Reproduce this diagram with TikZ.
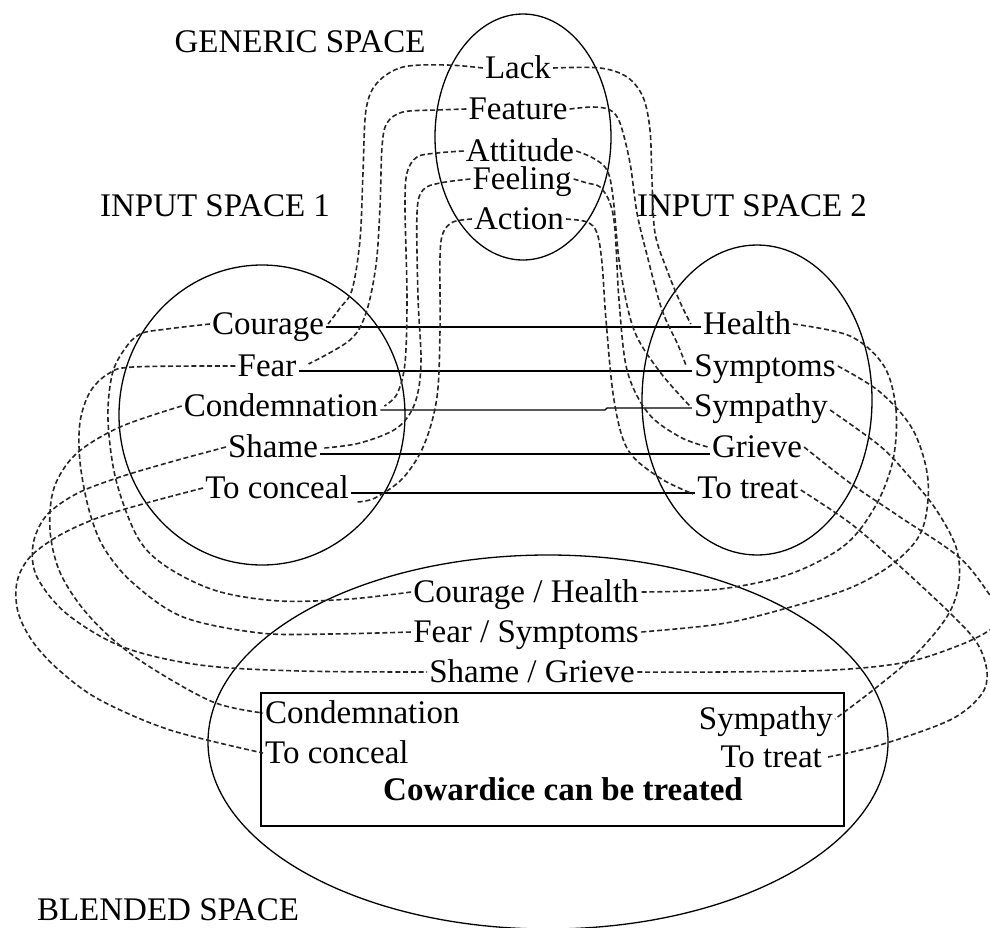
\documentclass[tikz,border=0pt]{standalone}
\usepackage{fontspec}
\setmainfont{Liberation Serif}
\begin{document}
\begin{tikzpicture}[x=1pt,y=-1pt,
  every node/.style={font=\fontsize{33}{38}\selectfont, inner xsep=2pt, inner ysep=0pt,
    text height=24pt, text depth=3pt},
  space/.style={draw=black, line width=1.3pt},
  map/.style={draw=black, line width=1.3pt},
  link/.style={draw=black!85, line width=1.6pt, dash pattern=on 5pt off 2.8pt},
  curve/.style={smooth, tension=0.55}]
\useasboundingbox (0,0) rectangle (990,927);
\clip (0,0) rectangle (990,927);

% the four mental spaces
\draw[space] (523,137) ellipse [x radius=88pt, y radius=123pt];
\draw[space] (262,415) ellipse [x radius=143pt, y radius=150pt];
\draw[space] (757,400) ellipse [x radius=115pt, y radius=155pt];
\draw[space] (548,742) ellipse [x radius=340pt, y radius=187pt];
\draw[space] (261,693) rectangle (844,826);

% space titles
\node (tgen) at (300,42) {GENERIC SPACE};
\node (tin1) at (215,206) {INPUT SPACE 1};
\node (tin2) at (752,206) {INPUT SPACE 2};
\node (tbl)  at (168,910) {BLENDED SPACE};

% generic space
\node (lack)    at (518,68)  {Lack};
\node (feature) at (518,109) {Feature};
\node (attitude)at (520,151) {Attitude};
\node (feeling) at (522,179) {Feeling};
\node (action)  at (519,219) {Action};

% input space 1
\node (courage) at (268,324) {Courage};
\node (fear)    at (267,366) {Fear};
\node (condem)  at (281,406) {Condemnation};
\node (shame)   at (273,447) {Shame};
\node (conceal) at (277,488) {To conceal};

% input space 2
\node (health)  at (747,324) {Health};
\node (sympt)   at (765,366) {Symptoms};
\node (sympa)   at (761,406) {Sympathy};
\node (grieve)  at (757,447) {Grieve};
\node (treat)   at (748,488) {To treat};

% blended space
\node (ch) at (526,592) {Courage / Health};
\node (fs) at (526,632) {Fear / Symptoms};
\node (sg) at (532,672) {Shame / Grieve};
\node[anchor=west] (bcondem)  at (263,713) {Condemnation};
\node[anchor=west] (bconceal) at (263,753) {To conceal};
\node[anchor=east] (bsympa)   at (835,719) {Sympathy};
\node[anchor=east] (btreat)   at (824,757) {To treat};
\node (result) at (563,790) {\bfseries Cowardice can be treated};

% cross-space mappings between the inputs
\draw[map] ([yshift=-3pt]courage.east) -- ([yshift=-3pt]health.west);
\draw[map] ([yshift=-5pt]fear.east) -- ([yshift=-5pt]sympt.west);
\draw[map] ([yshift=-4pt]condem.east) -- (605,410) -- (607,408) -- ([yshift=-2pt]sympa.west);
\draw[map] ([yshift=-7pt]shame.east) -- ([yshift=-7pt]grieve.west);
\draw[map] ([yshift=-5pt]conceal.east) -- ([yshift=-5pt]treat.west);

% generic space to input space 1
\draw[link] plot[curve] coordinates {(lack.west) (447,65) (403,67) (377,83) (366,110) (363,173) (360,240) (352,290) (340,308) ([xshift=2pt]courage.east)};
\draw[link] plot[curve] coordinates {(feature.west) (437,110) (403,112) (387,123) (382,147) (380,207) (376,265) (366,313) (350,340) ([xshift=10pt,yshift=2pt]fear.east)};
\draw[link] plot[curve] coordinates {(attitude.west) (437,153) (417,157) (407,173) (405,207) (407,297) (405,363) (397,394) ([xshift=4pt]condem.east)};
\draw[link] plot[curve] coordinates {(feeling.west) (440,183) (423,190) (417,213) (418,297) (421,363) (415,403) (397,428) (360,443) ([xshift=4pt,yshift=-1pt]shame.east)};
\draw[link] plot[curve] coordinates {(action.west) (453,222) (443,233) (440,257) (440,330) (437,397) (424,445) (403,478) (375,498) ([xshift=6pt,yshift=-14pt]conceal.east)};

% generic space to input space 2
\draw[link] plot[curve] coordinates {(lack.east) (600,68) (627,77) (643,97) (650,130) (652,180) (655,233) (667,270) (680,302) ([xshift=-10pt]health.west)};
\draw[link] plot[curve] coordinates {(feature.east) (593,107) (610,110) (620,123) (630,163) (637,213) (647,255) (662,310) (678,345) ([xshift=-6pt]sympt.west)};
\draw[link] plot[curve] coordinates {(attitude.east) (593,158) (607,170) (613,197) (620,267) (634,330) (660,372) ([xshift=-2pt]sympa.west)};
\draw[link] plot[curve] coordinates {(feeling.east) (587,183) (600,187) (610,203) (615,230) (619,300) (627,370) (648,413) (680,437) ([xshift=-2pt]grieve.west)};
\draw[link] plot[curve] coordinates {(action.east) (587,222) (597,233) (602,263) (606,320) (614,400) (628,450) (660,478) ([xshift=-2pt,yshift=-6pt]treat.west)};

% input space 1 to blended space
\draw[link] plot[curve] coordinates {(courage.west) (167,329) (140,334) (124,350) (112,375) (108,420) (116,480) (138,538) (167,567) (217,591) (280,601) (350,599) (ch.west)};
\draw[link] plot[curve] coordinates {(fear.west) (133,367) (108,374) (90,392) (80,422) (80,462) (89,510) (104,548) (133,583) (183,617) (260,633) (330,634) (fs.west)};
\draw[link] plot[curve] coordinates {(condem.west) (120,427) (76,454) (54,488) (50,530) (59,570) (80,605) (110,637) (150,667) (213,702) (bcondem.west)};
\draw[link] plot[curve] coordinates {(shame.west) (167,463) (117,478) (76,494) (46,516) (33,545) (37,577) (67,614) (123,647) (200,665) (300,671) (sg.west)};
\draw[link] plot[curve] coordinates {(conceal.west) (150,502) (100,517) (60,535) (30,557) (17,582) (18,612) (33,642) (60,671) (100,700) (170,730) (bconceal.west)};

% input space 2 to blended space
\draw[link] plot[curve] coordinates {(health.east) (850,336) (884,366) (896,410) (893,460) (876,505) (845,545) (790,574) (720,589) (ch.east)};
\draw[link] plot[curve] coordinates {(sympt.east) (880,392) (913,430) (928,480) (922,530) (895,562) (850,588) (780,610) (720,624) (fs.east)};
\draw[link] plot[curve] coordinates {(grieve.east) (850,483) (900,517) (960,558) (992,598) (1004,616) (990,630) (960,645) (907,662) (833,670) (720,672) (sg.east)};
\draw[link] plot[curve] coordinates {([yshift=-4pt]sympa.east) (880,446) (907,474) (935,508) (956,547) (959,582) (948,615) (917,653) (877,687) (bsympa.east)};
\draw[link] plot[curve] coordinates {([yshift=-2pt]treat.east) (850,523) (893,560) (950,613) (977,643) (987,672) (981,695) (950,720) (880,745) ([xshift=4pt]btreat.east)};
\end{tikzpicture}
\end{document}
